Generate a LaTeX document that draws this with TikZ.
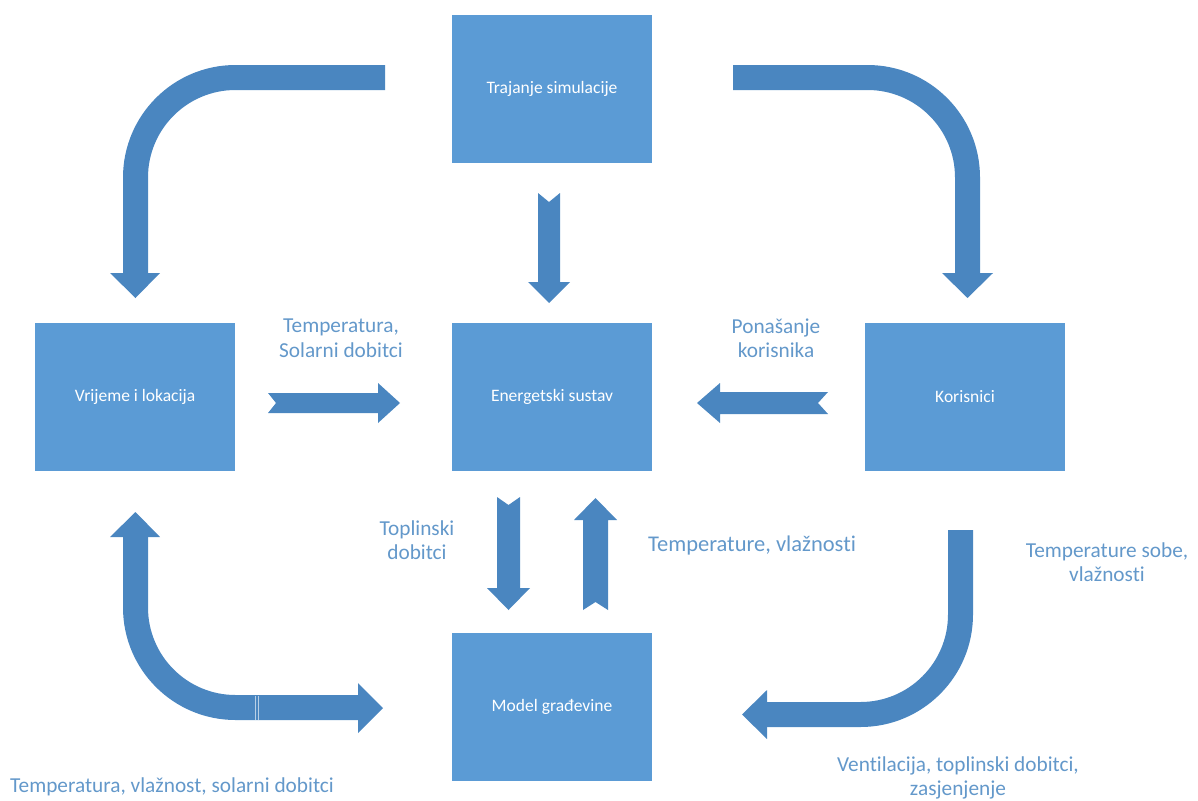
\documentclass[tikz,border=0pt]{standalone}
\usepackage{fontspec}
\setmainfont{Carlito}[Ligatures=NoCommon]
\definecolor{boxblue}{HTML}{5B9BD5}
\definecolor{arrblue}{HTML}{4A86C0}
\definecolor{lblblue}{HTML}{6398CA}
\begin{document}
\begin{tikzpicture}[x=1pt,y=-1pt,
  blockbox/.style={fill=boxblue,draw=none,minimum width=200pt,minimum height=148pt,inner sep=0pt,text=white,font=\fontsize{17.5}{21}\selectfont},
  lbl/.style={text=lblblue,align=center,font=\fontsize{21.3}{24.5}\selectfont,inner sep=0pt},
  bentshaft/.style={draw=arrblue,line width=25pt,rounded corners=100pt},
  arrfill/.style={fill=arrblue,draw=none}]
\useasboundingbox (0,0) rectangle (1198,800);
% boxes
\node[blockbox] (traj) at (552,89) {Trajanje simulacije};
\node[blockbox] (vrij) at (135,397) {Vrijeme i lokacija};
\node[blockbox] (ener) at (552,397) {Energetski sustav};
\node[blockbox] (kor) at (965,397) {Korisnici};
\node[blockbox] (mod) at (552,707) {Model građevine};
% labels
\node[lbl] (l1) at (341,338) {Temperatura,\\Solarni dobitci};
\node[lbl] (l2) at (776,338) {Ponašanje\\korisnika};
\node[lbl] (l3) at (417,540) {Toplinski\\dobitci};
\node[lbl,font=\fontsize{22.5}{26}\selectfont] (l4) at (752,545) {Temperature, vlažnosti};
\node[lbl] (l5) at (1107,562) {Temperature sobe,\\vlažnosti};
\node[lbl] (l6) at (958,778) {Ventilacija, toplinski dobitci,\\zasjenjenje};
\node[lbl] (l7) at (172,787) {Temperatura, vlažnost, solarni dobitci};
% bent arrows
\coordinate (tlA) at (385,77.5);
\coordinate (tlB) at (135.5,77.5);
\coordinate (tlC) at (135.5,274);
\draw[bentshaft] (tlA) -- (tlB) -- (tlC);
\fill[arrfill] (110,273) -- (160,273) -- (135.5,298) -- cycle;
\coordinate (trA) at (733,77.5);
\coordinate (trB) at (967.5,77.5);
\coordinate (trC) at (967.5,274);
\draw[bentshaft] (trA) -- (trB) -- (trC);
\fill[arrfill] (942,273) -- (993,273) -- (967.5,298) -- cycle;
\coordinate (blA) at (135.5,536);
\coordinate (blB) at (135.5,707.5);
\coordinate (blC) at (359,707.5);
\draw[bentshaft] (blA) -- (blB) -- (blC);
\fill[arrfill] (110,537) -- (160,537) -- (135.5,512) -- cycle;
\fill[arrfill] (358,683) -- (358,733) -- (383,708) -- cycle;
\draw[white!60!arrblue,line width=0.6pt] (255,695.5) -- (255,719.5) (258.5,695.5) -- (258.5,719.5);
\coordinate (brA) at (960.5,530);
\coordinate (brB) at (960.5,714.5);
\coordinate (brC) at (766,714.5);
\draw[bentshaft] (brA) -- (brB) -- (brC);
\fill[arrfill] (767,690) -- (767,739) -- (742,714.5) -- cycle;
% straight notched arrows
\fill[arrfill] (268,393) -- (378,393) -- (378,383) -- (400,403) -- (378,423) -- (378,413) -- (268,413) -- (276,403) -- cycle;
\fill[arrfill] (828,392) -- (720,392) -- (720,383) -- (697,403) -- (720,423) -- (720,414) -- (828,414) -- (818,403) -- cycle;
\fill[arrfill] (538,193) -- (549,202) -- (560,193) -- (560,282) -- (570,282) -- (549,303) -- (528,282) -- (538,282) -- cycle;
\fill[arrfill] (497,497) -- (508.5,505) -- (520,497) -- (520,588) -- (530,588) -- (508.5,610) -- (487,588) -- (497,588) -- cycle;
\fill[arrfill] (583,610) -- (595.5,602) -- (608,610) -- (608,520) -- (617,520) -- (595.5,498) -- (574,520) -- (583,520) -- cycle;
\end{tikzpicture}
\end{document}
